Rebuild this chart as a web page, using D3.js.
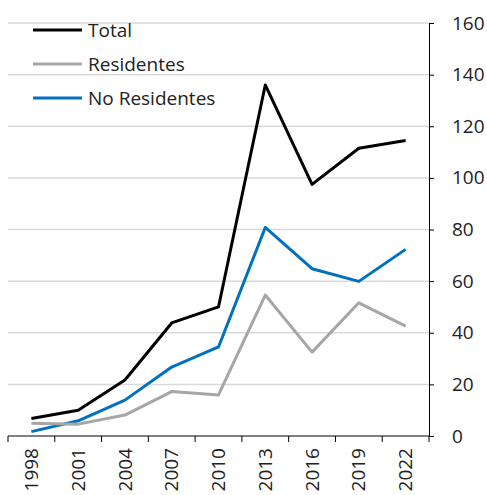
<!DOCTYPE html>
<html lang="en">
<head>
	<meta charset="utf-8">
	<title>Total / Residentes / No Residentes</title>
	<style>
        body { margin: 0; background: #fff; }
        text { font-family: "Open Sans", "Liberation Sans", sans-serif; fill: #222; }
	</style>
	<script src="https://cdn.jsdelivr.net/npm/d3@7"></script>
</head>
<body>
    <svg width="487" height="495"></svg>

	<script>
        const years = ["1998", "2001", "2004", "2007", "2010", "2013", "2016", "2019", "2022"];
        const total = [6.8, 10, 21.7, 43.8, 50, 136, 97.5, 111.5, 114.5];
        const residentes = [4.9, 4.6, 8.1, 17.2, 15.9, 54.6, 32.5, 51.6, 42.6];
        const noResidentes = [1.7, 5.9, 13.9, 26.7, 34.5, 80.8, 64.8, 59.9, 72.3];
        const yTicks = [0, 20, 40, 60, 80, 100, 120, 140, 160];

        const series = [
            { name: "Total", values: total, color: "#000000" },
            { name: "Residentes", values: residentes, color: "#a6a6a6" },
            { name: "No Residentes", values: noResidentes, color: "#0070c0" }
        ];

        let svg = d3.select("svg");
        const plotLeft = 8, plotRight = 429, plotTop = 23, plotBottom = 436;

        let x = d3.scaleBand().domain(years).range([plotLeft, plotRight]);
        let y = d3.scaleLinear().domain([0, 160]).range([plotBottom, plotTop]);

        // gridlines
        svg.append("g")
            .selectAll("line")
            .data(yTicks.filter(d => d > 0))
            .join("line")
            .attr("x1", plotLeft).attr("x2", plotRight)
            .attr("y1", d => y(d)).attr("y2", d => y(d))
            .attr("stroke", "#d9d9d9")
            .attr("stroke-width", 1.5);

        // right axis
        let yAxis = svg.append("g")
            .attr("transform", `translate(${plotRight},0)`)
            .call(d3.axisRight(y).tickValues(yTicks).tickSize(5).tickPadding(18));
        yAxis.select(".domain").attr("stroke", "#000");
        yAxis.selectAll(".tick line").attr("stroke", "#000");
        yAxis.selectAll("text").style("font-size", "19px").attr("fill", "#222");

        // bottom axis: ticks between categories
        let xAxis = svg.append("g").attr("transform", `translate(0,${plotBottom})`);
        xAxis.append("line")
            .attr("x1", plotLeft).attr("x2", plotRight)
            .attr("stroke", "#000");
        xAxis.selectAll(".sep")
            .data(years.concat(["end"]))
            .join("line")
            .attr("class", "sep")
            .attr("x1", (d, i) => plotLeft + i * x.bandwidth())
            .attr("x2", (d, i) => plotLeft + i * x.bandwidth())
            .attr("y1", 0).attr("y2", 6)
            .attr("stroke", "#000");
        xAxis.selectAll("text")
            .data(years)
            .join("text")
            .attr("transform", d => `translate(${x(d) + x.bandwidth() / 2},12) rotate(-90)`)
            .attr("text-anchor", "end")
            .attr("dy", "0.35em")
            .style("font-size", "19px")
            .text(d => d);

        // lines
        let line = d3.line()
            .x((d, i) => x(years[i]) + x.bandwidth() / 2)
            .y(d => y(d));

        svg.append("g")
            .selectAll("path")
            .data(series.slice().reverse())
            .join("path")
            .attr("d", d => line(d.values))
            .attr("fill", "none")
            .attr("stroke", d => d.color)
            .attr("stroke-width", 3)
            .attr("stroke-linejoin", "round");

        // legend
        let legend = svg.append("g")
            .selectAll("g")
            .data(series)
            .join("g")
            .attr("transform", (d, i) => `translate(33,${30 + i * 34})`);
        legend.append("line")
            .attr("x1", 0).attr("x2", 49)
            .attr("stroke", d => d.color)
            .attr("stroke-width", 3);
        legend.append("text")
            .attr("x", 55)
            .attr("dy", "0.35em")
            .style("font-size", "19px")
            .text(d => d.name);
    </script>
</body>
</html>
